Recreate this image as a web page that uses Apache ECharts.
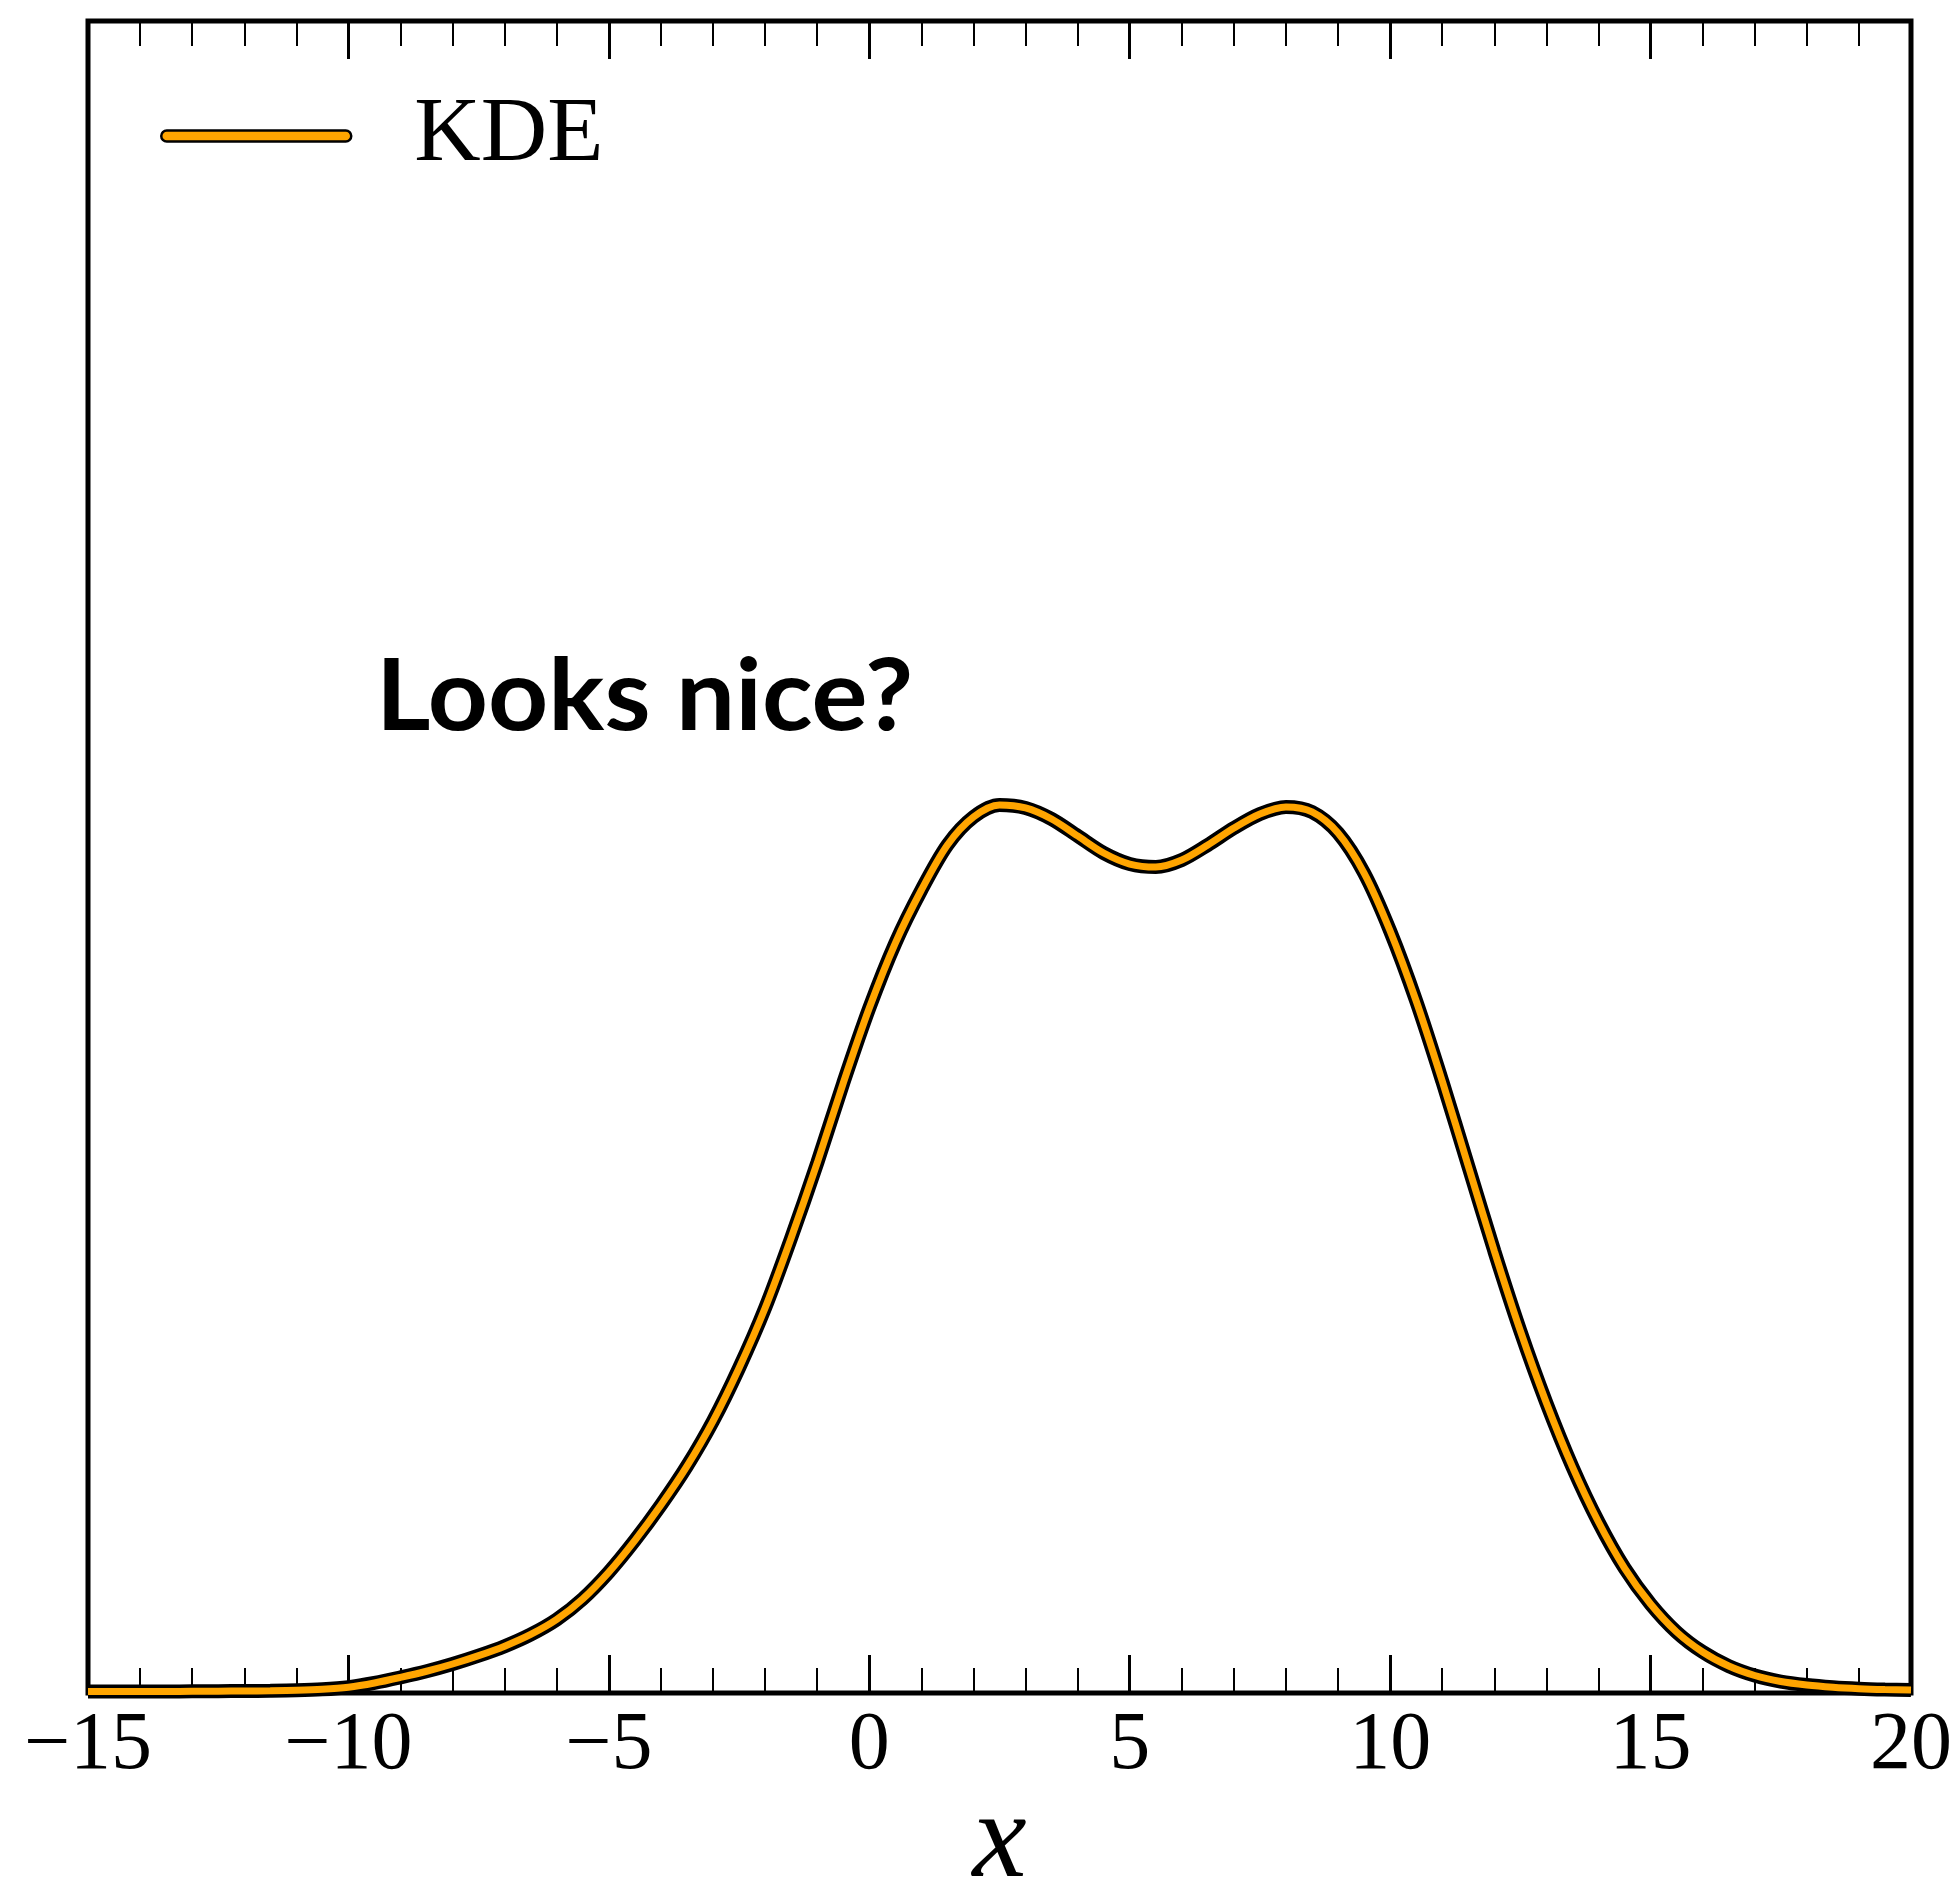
<!DOCTYPE html>
<html>
<head>
<meta charset="utf-8">
<script src="https://cdn.jsdelivr.net/npm/echarts@6/dist/echarts.min.js"></script>
<style>
  html, body { margin: 0; padding: 0; background: #fff; }
  #chart { width: 1957px; height: 1885px; }
</style>
</head>
<body>
<div id="chart"></div>
<script>
// Kernel density estimate, sampled every 0.5 along x
const xValues = [
  -15, -14.5, -14, -13.5, -13, -12.5, -12, -11.5, -11, -10.5,
  -10, -9.5, -9, -8.5, -8, -7.5, -7, -6.5, -6, -5.5,
  -5, -4.5, -4, -3.5, -3, -2.5, -2, -1.5, -1, -0.5,
  0, 0.5, 1, 1.5, 2, 2.5, 3, 3.5, 4, 4.5,
  5, 5.5, 6, 6.5, 7, 7.5, 8, 8.5, 9, 9.5,
  10, 10.5, 11, 11.5, 12, 12.5, 13, 13.5, 14, 14.5,
  15, 15.5, 16, 16.5, 17, 17.5, 18, 18.5, 19, 19.5, 20
];
const kdeValues = [
  0.00013, 0.00013, 0.00014, 0.00014, 0.00015, 0.00016, 0.00018, 0.00020, 0.00024, 0.00033,
  0.00052, 0.00090, 0.00140, 0.00195, 0.00260, 0.00335, 0.00420, 0.00525, 0.00660, 0.00845,
  0.01085, 0.01370, 0.01687, 0.02036, 0.02440, 0.02916, 0.03454, 0.04082, 0.04755, 0.05472,
  0.06145, 0.06728, 0.07204, 0.07608, 0.07859, 0.07967, 0.07940, 0.07841, 0.07689, 0.07536,
  0.07437, 0.07410, 0.07473, 0.07608, 0.07760, 0.07886, 0.07949, 0.07904, 0.07715, 0.07356,
  0.06836, 0.06208, 0.05490, 0.04728, 0.03965, 0.03248, 0.02602, 0.02028, 0.01534, 0.01121,
  0.00798, 0.00547, 0.00368, 0.00242, 0.00157, 0.00103, 0.00072, 0.00052, 0.00039, 0.00031, 0.00026
];
const xTicks = [-15, -10, -5, 0, 5, 10, 15, 20];
const seriesName = 'KDE';
const annotation = 'Looks nice?';
const axisTitle = 'x';

const points = xValues.map((x, i) => [x, kdeValues[i]]);
const ORANGE = '#FFA500';
const serif = '"Liberation Serif", "DejaVu Serif", serif';

const tickFmt = v => (v < 0 ? '\u2212' + Math.abs(v) : String(v));

const chart = echarts.init(document.getElementById('chart'), null, { renderer: 'canvas' });

const commonX = {
  type: 'value',
  min: xTicks[0],
  max: xTicks[xTicks.length - 1],
  interval: 5,
  splitLine: { show: false },
  axisLine: { show: false },
  axisTick: { show: true, inside: true, length: 38, lineStyle: { color: '#000', width: 3 } },
  minorTick: { show: true, splitNumber: 5, length: 25, lineStyle: { color: '#000', width: 2 } },
  minorSplitLine: { show: false }
};

chart.setOption({
  animation: false,
  backgroundColor: '#fff',
  grid: {
    left: 88, right: 46, top: 21, bottom: 192,
    containLabel: false,
    outerBoundsMode: 'none',
    show: true, borderColor: '#000', borderWidth: 5, backgroundColor: 'transparent'
  },
  xAxis: [
    Object.assign({}, commonX, {
      position: 'bottom',
      name: axisTitle,
      nameLocation: 'middle',
      nameGap: 90,
      nameMoveOverlap: false,
      nameTextStyle: { fontFamily: serif, fontStyle: 'italic', fontSize: 122, color: '#000' },
      axisLabel: { show: true, margin: 12, fontFamily: serif, fontSize: 82, color: '#000', formatter: tickFmt }
    }),
    Object.assign({}, commonX, {
      position: 'top',
      axisLabel: { show: false }
    })
  ],
  yAxis: {
    type: 'value', min: 0, max: 0.15, show: false
  },
  legend: {
    data: [{
      name: seriesName,
      icon: 'path://M5.5,0 H184.5 A5.5,5.5 0 0 1 184.5,11 H5.5 A5.5,5.5 0 0 1 5.5,0 Z',
      itemStyle: { color: ORANGE, borderColor: '#000', borderWidth: 2.5 }
    }],
    left: 160, top: 90, padding: 0,
    itemWidth: 190, itemHeight: 11,
    selectedMode: false,
    textStyle: { fontFamily: serif, fontSize: 92, color: '#000', padding: [0, 0, 0, 58] }
  },
  graphic: [{
    type: 'text',
    z: 100,
    x: 376, y: 698,
    scaleX: 1.06,
    style: {
      x: 0, y: 0,
      text: annotation,
      font: 'bold 99px Lato, "Noto Sans", sans-serif',
      fill: '#000',
      verticalAlign: 'middle'
    }
  }],
  series: [
    {
      name: 'KDE outline',
      type: 'line',
      data: points,
      smooth: 0.3,
      showSymbol: false,
      clip: false,
      lineStyle: { color: '#000', width: 14 },
      z: 3
    },
    {
      name: seriesName,
      type: 'line',
      data: points,
      smooth: 0.3,
      showSymbol: false,
      clip: false,
      color: ORANGE,
      lineStyle: { color: ORANGE, width: 7 },
      z: 4
    }
  ]
});
</script>
</body>
</html>
